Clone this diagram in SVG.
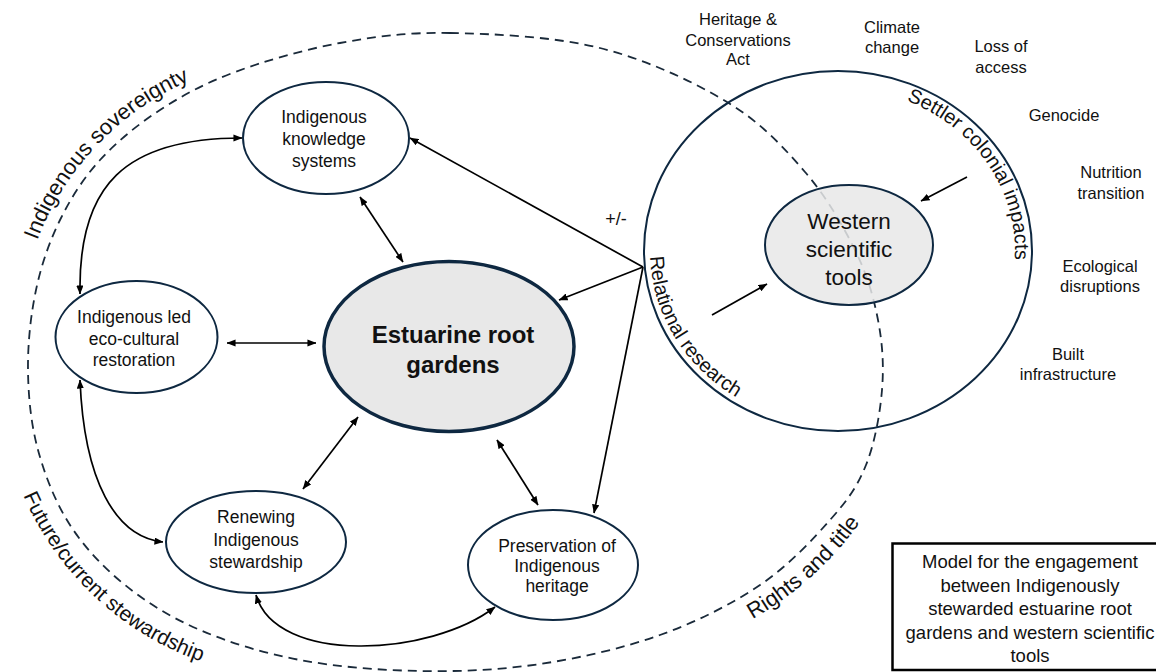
<svg xmlns="http://www.w3.org/2000/svg" width="1156" height="672" viewBox="0 0 1156 672">
<style>
text{font-family:"Liberation Sans",Arial,sans-serif;fill:#111}
.node{fill:#fff;stroke:#0e2841;stroke-width:2}
.gray{fill:#e8e8e8}
.nt{font-size:17.5px;text-anchor:middle}
.ext{font-size:16.5px;text-anchor:middle}
.conn{fill:none;stroke:#000;stroke-width:1.7}
.dbl{marker-start:url(#ah);marker-end:url(#ah)}
.one{marker-end:url(#ah)}
.curve{font-size:22px}
.ctext{font-size:20px}
.cap{font-size:18.5px;text-anchor:middle}
</style>
<defs>
<marker id="ah" viewBox="0 0 10 8" refX="9.5" refY="4" markerWidth="9" markerHeight="7.2" markerUnits="userSpaceOnUse" orient="auto-start-reverse"><path d="M0,0 L10,4 L0,8 z" fill="#000"/></marker>
<path id="pSov" d="M18.8,341 A283.5 283.5 0 0 1 302.3,57.5"/>
<path id="pFut" d="M-2,374 A305 305 0 0 0 303,679"/>
<path id="pRig" d="M585,663.5 A338.5 338.5 0 0 0 923.5,325.2"/>
<path id="pSet" d="M661,251 A177 163 0 0 1 1015,251 A177 163 0 0 1 661,251"/>
<path id="pRel" d="M838,77 A188 174 0 0 0 838,425 A188 174 0 0 0 838,77"/>
</defs>
<rect width="1156" height="672" fill="#fff"/>

<g id="boundary">
<path d="M450,33 C493.3,33.8 553.8,36.5 600,48 C646.2,59.5 692.8,81.3 727,102 C761.2,122.7 783.7,147.3 805,172 C826.3,196.7 842.8,225.3 855,250 C867.2,274.7 873.5,296.7 878,320 C882.5,343.3 884,365.8 882,390 C880,414.2 874.7,443.3 866,465 C857.3,486.7 847.7,500 830,520 C812.3,540 788.3,565.8 760,585 C731.7,604.2 696.7,621.8 660,635 C623.3,648.2 580,658 540,664 C500,670 460,671.7 420,671 C380,670.3 336.7,666.8 300,660 C263.3,653.2 229.2,642.5 200,630 C170.8,617.5 146.7,602.5 125,585 C103.3,567.5 84.5,547.5 70,525 C55.5,502.5 45,475.8 38,450 C31,424.2 28.3,396.7 28,370 C27.7,343.3 30.7,315 36,290 C41.3,265 49.3,241.7 60,220 C70.7,198.3 83.3,178.3 100,160 C116.7,141.7 137.5,124.7 160,110 C182.5,95.3 205,83.2 235,72 C265,60.8 304.2,49.5 340,43 C375.8,36.5 406.7,32.2 450,33 Z" fill="none" stroke="#1a2a3a" stroke-width="1.8" stroke-dasharray="9 6"/>
<text class="curve"><textPath href="#pSov" startOffset="216" text-anchor="middle">Indigenous sovereignty</textPath></text>
<text class="curve" style="font-size:21px"><textPath href="#pFut" startOffset="250" text-anchor="middle">Future/current stewardship</textPath></text>
<text class="curve"><textPath href="#pRig" startOffset="248" text-anchor="middle">Rights and title</textPath></text>
</g>

<g id="western-sphere">
<ellipse cx="838" cy="251" rx="194" ry="180" fill="none" stroke="#0e2841" stroke-width="2"/>
<text class="ctext"><textPath href="#pSet" startOffset="440" text-anchor="middle">Settler colonial impacts</textPath></text>
<text class="ctext"><textPath href="#pRel" startOffset="376" text-anchor="middle">Relational research</textPath></text>
</g>

<g id="connectors">
<line class="conn dbl" x1="227" y1="343" x2="316" y2="343"/>
<line class="conn dbl" x1="360" y1="197" x2="403" y2="262"/>
<line class="conn dbl" x1="358" y1="417" x2="303" y2="489"/>
<line class="conn dbl" x1="497" y1="440" x2="538" y2="505"/>
<line class="conn one" x1="643" y1="267" x2="410" y2="138"/>
<line class="conn one" x1="643" y1="267" x2="559" y2="300"/>
<line class="conn one" x1="643" y1="267" x2="594" y2="513"/>
<path class="conn dbl" d="M80,294 C78,185 125,138 242,138"/>
<path class="conn dbl" d="M80,380 C84,480 115,537 163,542"/>
<path class="conn dbl" d="M256,595 C276,665 430,657 495,607"/>
<line class="conn one" x1="967" y1="177" x2="921" y2="201"/>
<line class="conn one" x1="712" y1="315" x2="767" y2="284"/>
<text x="616" y="225" font-size="18" text-anchor="middle">+/-</text>
</g>

<g id="node-iks">
<ellipse class="node" cx="326" cy="138" rx="83" ry="56"/>
<text class="nt" x="324" y="123">Indigenous</text>
<text class="nt" x="324" y="145">knowledge</text>
<text class="nt" x="324" y="167">systems</text>
</g>
<g id="node-eco">
<ellipse class="node" cx="136.5" cy="337" rx="81" ry="56"/>
<text class="nt" x="134" y="323">Indigenous led</text>
<text class="nt" x="134" y="345">eco-cultural</text>
<text class="nt" x="134" y="366">restoration</text>
</g>
<g id="node-erg">
<ellipse class="gray" cx="449" cy="346.5" rx="125" ry="85" stroke="#0e2841" stroke-width="3.5"/>
<text x="453" y="342.5" font-size="24" font-weight="bold" text-anchor="middle">Estuarine root</text>
<text x="453" y="373" font-size="24" font-weight="bold" text-anchor="middle">gardens</text>
</g>
<g id="node-ren">
<ellipse class="node" cx="256" cy="542" rx="90" ry="51"/>
<text class="nt" x="256" y="523">Renewing</text>
<text class="nt" x="256" y="546">Indigenous</text>
<text class="nt" x="256" y="568">stewardship</text>
</g>
<g id="node-pres">
<ellipse class="node" cx="553" cy="565" rx="85" ry="55"/>
<text class="nt" x="557" y="552">Preservation of</text>
<text class="nt" x="557" y="572">Indigenous</text>
<text class="nt" x="557" y="592">heritage</text>
</g>
<g id="node-wst">
<ellipse cx="849" cy="245" rx="84" ry="60" fill="#e8e8e8" fill-opacity="0.85" stroke="#0e2841" stroke-width="2"/>
<text x="849" y="229" font-size="22.5" text-anchor="middle">Western</text>
<text x="849" y="257" font-size="22.5" text-anchor="middle">scientific</text>
<text x="849" y="285" font-size="22.5" text-anchor="middle">tools</text>
</g>

<g id="impacts">
<text class="ext" x="738" y="24.5">Heritage &amp;</text>
<text class="ext" x="738" y="45.5">Conservations</text>
<text class="ext" x="738" y="65">Act</text>
<text class="ext" x="892" y="32.5">Climate</text>
<text class="ext" x="892" y="52.5">change</text>
<text class="ext" x="1001" y="52">Loss of</text>
<text class="ext" x="1001" y="72.5">access</text>
<text class="ext" x="1064" y="120.5">Genocide</text>
<text class="ext" x="1111" y="177.5">Nutrition</text>
<text class="ext" x="1111" y="198.5">transition</text>
<text class="ext" x="1100" y="271.5">Ecological</text>
<text class="ext" x="1100" y="292">disruptions</text>
<text class="ext" x="1068" y="359.5">Built</text>
<text class="ext" x="1068" y="380">infrastructure</text>
</g>

<g id="caption">
<rect x="892.5" y="543.5" width="290" height="126.5" fill="#fff" stroke="#000" stroke-width="2.5"/>
<text class="cap" x="1030" y="568">Model for the engagement</text>
<text class="cap" x="1030" y="592">between Indigenously</text>
<text class="cap" x="1030" y="615">stewarded estuarine root</text>
<text class="cap" x="1030" y="639">gardens and western scientific</text>
<text class="cap" x="1030" y="662">tools</text>
</g>
</svg>
